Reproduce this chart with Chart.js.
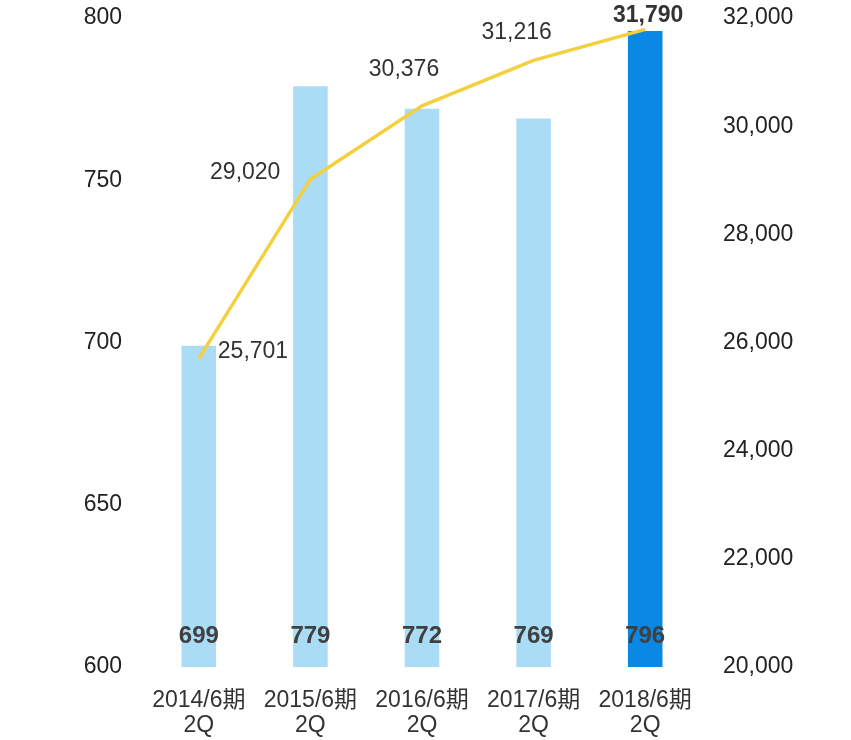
<!DOCTYPE html>
<html>
<head>
<meta charset="utf-8">
<script src="https://cdn.jsdelivr.net/npm/chart.js@4/dist/chart.umd.min.js"></script>
<style>
  html, body { margin: 0; padding: 0; background: #fff; }
  #chart { display: block; }
</style>
</head>
<body>
<canvas id="chart" width="851" height="740"></canvas>
<script>
const categories = [['2014/6期', '2Q'], ['2015/6期', '2Q'], ['2016/6期', '2Q'], ['2017/6期', '2Q'], ['2018/6期', '2Q']];
const barValues = [699, 779, 772, 769, 796];
const lineValues = [25701, 29020, 30376, 31216, 31790];
const leftTicks = [600, 650, 700, 750, 800];
const rightTicks = [20000, 22000, 24000, 26000, 28000, 30000, 32000];

const FONT = '"Liberation Sans", Arial, "Noto Sans CJK JP", sans-serif';
const barColors = barValues.map((v, i) => (i === barValues.length - 1 ? '#0a88e4' : '#abdcf6'));

// where each line label sits relative to its point
const lineLabelOffsets = [
  { dx: 19, dy: -7, align: 'left' },
  { dx: -30, dy: -7, align: 'right' },
  { dx: -18, dy: -36, align: 'center' },
  { dx: -17, dy: -28, align: 'center' },
  { dx: 3, dy: -14, align: 'center', bold: true },
];

const valueLabels = {
  id: 'valueLabels',
  afterDatasetsDraw(chart) {
    const ctx = chart.ctx;
    const bottom = chart.chartArea.bottom;
    ctx.save();
    ctx.textBaseline = 'middle';

    const barMeta = chart.getDatasetMeta(1);
    ctx.fillStyle = '#404040';
    ctx.textAlign = 'center';
    ctx.font = 'bold 24px ' + FONT;
    barMeta.data.forEach((bar, i) => {
      ctx.fillText(String(barValues[i]), bar.x, bottom - 31);
    });

    const lineMeta = chart.getDatasetMeta(0);
    ctx.fillStyle = '#333';
    lineMeta.data.forEach((pt, i) => {
      const o = lineLabelOffsets[i];
      ctx.font = (o.bold ? 'bold ' : '') + '23px ' + FONT;
      ctx.textAlign = o.align;
      ctx.fillText(lineValues[i].toLocaleString('en-US'), pt.x + o.dx, pt.y + o.dy);
    });
    ctx.restore();
  },
};

function fitY(width) {
  return (scale) => {
    scale.width = width;
    scale.paddingTop = 0;
    scale.paddingBottom = 0;
  };
}

new Chart(document.getElementById('chart'), {
  data: {
    labels: categories,
    datasets: [
      {
        type: 'line',
        data: lineValues,
        yAxisID: 'y2',
        borderColor: '#f3d03e',
        borderWidth: 3.5,
        pointRadius: 0,
        tension: 0,
        order: 0,
      },
      {
        type: 'bar',
        data: barValues,
        yAxisID: 'y',
        backgroundColor: barColors,
        barPercentage: 0.31,
        categoryPercentage: 1,
        order: 1,
      },
    ],
  },
  options: {
    responsive: false,
    animation: false,
    layout: { padding: { top: 18, left: 0, right: 0, bottom: 0 } },
    plugins: {
      legend: { display: false },
      tooltip: { enabled: false },
    },
    scales: {
      x: {
        grid: { display: false, drawTicks: false },
        border: { display: false },
        ticks: {
          color: '#333',
          padding: 22,
          maxRotation: 0,
          font: { family: FONT, size: 23, lineHeight: 1.05 },
        },
        afterFit(scale) { scale.height = 73; },
      },
      y: {
        position: 'left',
        min: 600,
        max: 800,
        grid: { display: false, drawTicks: false },
        border: { display: false },
        afterBuildTicks(scale) { scale.ticks = leftTicks.map((v) => ({ value: v })); },
        ticks: {
          color: '#222',
          padding: 21,
          font: { family: FONT, size: 23 },
        },
        afterFit: fitY(143),
      },
      y2: {
        position: 'right',
        min: 20000,
        max: 32000,
        grid: { display: false, drawTicks: false },
        border: { display: false },
        afterBuildTicks(scale) { scale.ticks = rightTicks.map((v) => ({ value: v })); },
        ticks: {
          color: '#222',
          padding: 22,
          font: { family: FONT, size: 23 },
          callback: (v) => Number(v).toLocaleString('en-US'),
        },
        afterFit: fitY(150),
      },
    },
  },
  plugins: [valueLabels],
});
</script>
</body>
</html>
